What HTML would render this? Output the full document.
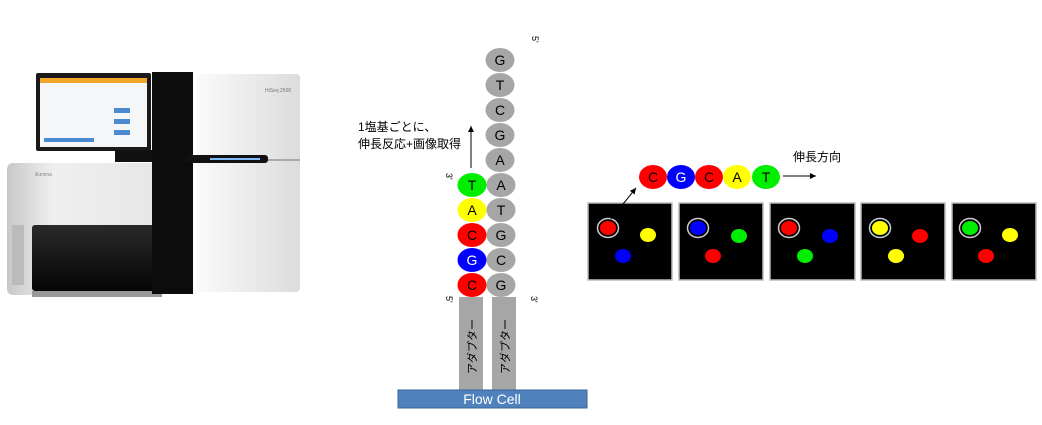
<!DOCTYPE html>
<html><head><meta charset="utf-8"><style>
body{margin:0;width:1042px;height:425px;background:#fff;overflow:hidden;position:relative;font-family:"Liberation Sans","Noto Sans CJK JP",sans-serif}
.a{position:absolute}
</style></head><body>
<svg class="a" style="left:0;top:0" width="1042" height="425" viewBox="0 0 1042 425">
<defs>
<linearGradient id="wg" x1="0" x2="1"><stop offset="0" stop-color="#fafafa"/><stop offset="1" stop-color="#dcdcdc"/></linearGradient>
<linearGradient id="lg" x1="0" x2="1"><stop offset="0" stop-color="#c8c8c8"/><stop offset="0.3" stop-color="#efefef"/><stop offset="1" stop-color="#e6e6e6"/></linearGradient>
<linearGradient id="dg" x1="0" y1="0" x2="0" y2="1"><stop offset="0" stop-color="#2a2a2a"/><stop offset="1" stop-color="#050505"/></linearGradient>
<marker id="ar" markerWidth="8" markerHeight="8" refX="6" refY="3" orient="auto"><path d="M0,0 L6,3 L0,6 z" fill="#000"/></marker>
</defs>
<!-- machine -->
<rect x="7" y="163" width="155" height="132" rx="6" fill="url(#lg)"/>
<rect x="12" y="225" width="12" height="60" fill="#bbb"/>
<rect x="32" y="225" width="145" height="66" rx="3" fill="url(#dg)"/>
<rect x="32" y="291" width="130" height="6" fill="#999"/>
<rect x="36" y="73" width="115" height="78" rx="2" fill="#1a1a1a"/>
<rect x="40" y="78" width="107" height="5" fill="#f3a52a"/>
<rect x="40" y="83" width="107" height="64" fill="#f4f6f8"/>
<rect x="114" y="108" width="16" height="5" fill="#4a8ad0"/>
<rect x="114" y="119" width="16" height="5" fill="#4a8ad0"/>
<rect x="114" y="130" width="16" height="5" fill="#4a8ad0"/>
<rect x="44" y="138" width="50" height="4" fill="#4a8ad0"/>
<rect x="115" y="150" width="40" height="12" fill="#111"/>
<rect x="152" y="72" width="41" height="222" fill="#0c0c0c"/>
<rect x="197" y="74" width="103" height="218" rx="4" fill="url(#wg)"/>
<rect x="197" y="159" width="103" height="2" fill="#aaa"/>
<rect x="185" y="155" width="83" height="8" rx="3" fill="#111"/>
<rect x="210" y="158" width="50" height="2" fill="#7fb8ff"/>
<text x="265" y="92" font-size="5" fill="#777">HiSeq 2500</text>
<text x="35" y="176" font-size="5" fill="#888">illumina</text>
<!-- strands -->
<rect x="459" y="297" width="24" height="94" fill="#a6a6a6"/>
<rect x="492" y="297" width="24" height="94" fill="#a6a6a6"/>
<text font-size="11" fill="#000" transform="translate(476,374) rotate(-90)">アダプター</text>
<text font-size="11" fill="#000" transform="translate(509,374) rotate(-90)">アダプター</text>
<rect x="398" y="390" width="189" height="18" fill="#4f81bd" stroke="#3a6595"/>
<text x="492" y="404" font-size="14" fill="#fff" text-anchor="middle">Flow Cell</text>
<g font-size="14" text-anchor="middle">
<g fill="#a6a6a6">
<ellipse cx="500" cy="60" rx="14.5" ry="12"/><ellipse cx="500" cy="85" rx="14.5" ry="12"/><ellipse cx="500" cy="110" rx="14.5" ry="12"/><ellipse cx="500" cy="135" rx="14.5" ry="12"/><ellipse cx="500" cy="160" rx="14.5" ry="12"/><ellipse cx="501" cy="185" rx="14.5" ry="12"/><ellipse cx="501" cy="210" rx="14.5" ry="12"/><ellipse cx="501" cy="235" rx="14.5" ry="12"/><ellipse cx="501" cy="260" rx="14.5" ry="12"/><ellipse cx="501" cy="285" rx="14.5" ry="12"/>
</g>
<text x="500" y="65">G</text><text x="500" y="90">T</text><text x="500" y="115">C</text><text x="500" y="140">G</text><text x="500" y="165">A</text><text x="501" y="190">A</text><text x="501" y="215">T</text><text x="501" y="240">G</text><text x="501" y="265">C</text><text x="501" y="290">G</text>
<ellipse cx="472" cy="185" rx="14.5" ry="12" fill="#00ee00"/><ellipse cx="472" cy="210" rx="14.5" ry="12" fill="#ffff00"/><ellipse cx="472" cy="235" rx="14.5" ry="12" fill="#ff0000"/><ellipse cx="472" cy="260" rx="14.5" ry="12" fill="#0000ff"/><ellipse cx="472" cy="285" rx="14.5" ry="12" fill="#ff0000"/>
<text x="472" y="190">T</text><text x="472" y="215">A</text><text x="472" y="240">C</text><text x="472" y="265" fill="#fff">G</text><text x="472" y="290">C</text>
</g>
<line x1="471" y1="168" x2="471" y2="126" stroke="#000" stroke-width="1" marker-end="url(#ar)"/>
<g font-size="9" fill="#000">
<text transform="translate(532,36) rotate(90)">5'</text>
<text transform="translate(446,173) rotate(90)">3'</text>
<text transform="translate(446,296) rotate(90)">5'</text>
<text transform="translate(531,296) rotate(90)">3'</text>
</g>
<text x="358" y="131" font-size="12">1塩基ごとに、</text>
<text x="358" y="148" font-size="12">伸長反応+画像取得</text>
<!-- right sequence -->
<g font-size="14" text-anchor="middle">
<ellipse cx="653" cy="177" rx="14" ry="12" fill="#ff0000"/><ellipse cx="681" cy="177" rx="14" ry="12" fill="#0000ff"/><ellipse cx="709" cy="177" rx="14" ry="12" fill="#ff0000"/><ellipse cx="737" cy="177" rx="14" ry="12" fill="#ffff00"/><ellipse cx="766" cy="177" rx="14" ry="12" fill="#00ee00"/>
<text x="653" y="182">C</text><text x="681" y="182" fill="#fff">G</text><text x="709" y="182">C</text><text x="737" y="182">A</text><text x="766" y="182">T</text>
</g>
<line x1="783" y1="176" x2="816" y2="176" stroke="#000" marker-end="url(#ar)"/>
<text x="793" y="161" font-size="12">伸長方向</text>
<g stroke="#bbb" stroke-width="1.5" fill="#000">
<rect x="588" y="203" width="84" height="77"/><rect x="679" y="203" width="84" height="77"/><rect x="770" y="203" width="85" height="77"/><rect x="861" y="203" width="84" height="77"/><rect x="952" y="203" width="84" height="77"/>
</g>
<g>
<ellipse cx="608" cy="228" rx="10.5" ry="9.5" fill="none" stroke="#ccc" stroke-width="1.5"/><ellipse cx="608" cy="228" rx="8" ry="7" fill="#f00"/><ellipse cx="648" cy="235" rx="8" ry="7" fill="#ff0"/><ellipse cx="623" cy="256" rx="8" ry="7" fill="#00f"/>
<ellipse cx="698" cy="228" rx="10.5" ry="9.5" fill="none" stroke="#ccc" stroke-width="1.5"/><ellipse cx="698" cy="228" rx="8" ry="7" fill="#00f"/><ellipse cx="739" cy="236" rx="8" ry="7" fill="#0e0"/><ellipse cx="713" cy="256" rx="8" ry="7" fill="#f00"/>
<ellipse cx="789" cy="228" rx="10.5" ry="9.5" fill="none" stroke="#ccc" stroke-width="1.5"/><ellipse cx="789" cy="228" rx="8" ry="7" fill="#f00"/><ellipse cx="830" cy="236" rx="8" ry="7" fill="#00f"/><ellipse cx="805" cy="256" rx="8" ry="7" fill="#0e0"/>
<ellipse cx="880" cy="228" rx="10.5" ry="9.5" fill="none" stroke="#ccc" stroke-width="1.5"/><ellipse cx="880" cy="228" rx="8" ry="7" fill="#ff0"/><ellipse cx="920" cy="236" rx="8" ry="7" fill="#f00"/><ellipse cx="896" cy="256" rx="8" ry="7" fill="#ff0"/>
<ellipse cx="970" cy="228" rx="10.5" ry="9.5" fill="none" stroke="#ccc" stroke-width="1.5"/><ellipse cx="970" cy="228" rx="8" ry="7" fill="#0e0"/><ellipse cx="1010" cy="235" rx="8" ry="7" fill="#ff0"/><ellipse cx="986" cy="256" rx="8" ry="7" fill="#f00"/>
</g>
<line x1="611" y1="219" x2="636" y2="188" stroke="#000" marker-end="url(#ar)"/>
</svg>
</body></html>
